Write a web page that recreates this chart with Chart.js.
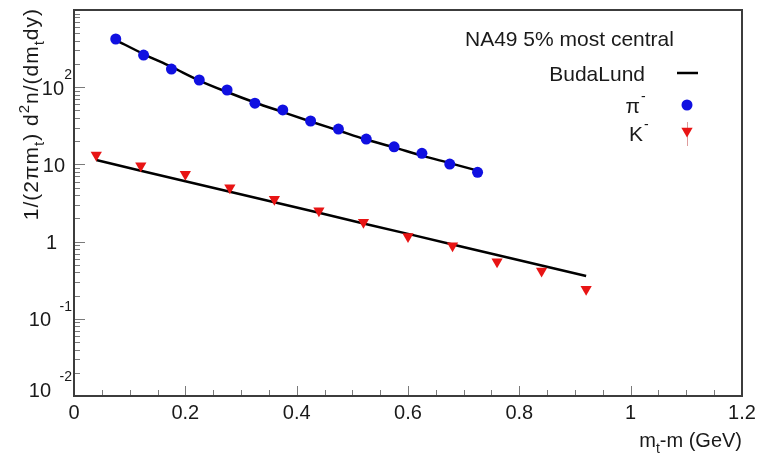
<!DOCTYPE html>
<html>
<head>
<meta charset="utf-8">
<script src="https://cdn.jsdelivr.net/npm/chart.js@4.4.1/dist/chart.umd.min.js"></script>
<style>
  html, body { margin: 0; padding: 0; background: #fff; }
  #wrap { width: 762px; height: 462px; }
</style>
</head>
<body>
<div id="wrap"><canvas id="spectra" width="762" height="462"></canvas></div>
<script>
// pi- spectrum, m_t - m in GeV
const pionMt = [0.075, 0.125, 0.175, 0.225, 0.275, 0.325, 0.375, 0.425, 0.475, 0.525, 0.575, 0.625, 0.675, 0.725];
const pionYield = [421, 261, 172, 124, 92, 62, 50.7, 36.5, 28.7, 21.3, 16.9, 13.9, 10.1, 7.9];
const pionFit = [408, 269, 183, 122, 86.7, 63.4, 47.7, 36, 27.5, 21, 16.6, 13, 10.4, 8.3];

// K- spectrum
const kaonMt = [0.04, 0.12, 0.20, 0.28, 0.36, 0.44, 0.52, 0.60, 0.68, 0.76, 0.84, 0.92];
const kaonYield = [13.2, 9.6, 7.44, 4.99, 3.53, 2.51, 1.78, 1.16, 0.885, 0.549, 0.416, 0.241];
const kaonFit = [11.4, 8.28, 6.06, 4.42, 3.23, 2.36, 1.72, 1.26, 0.918, 0.67, 0.49, 0.358];

// axis labels
const xTickLabels = ['0', '0.2', '0.4', '0.6', '0.8', '1', '1.2'];
const yDecades = [0.01, 0.1, 1, 10, 100];
const yDecadeBase = ['10', '10', '1', '10', '10'];
const yDecadeExp = ['-2', '-1', '', '', '2'];

const FONT = '"Liberation Sans", Arial, Helvetica, sans-serif';
const PION_BLUE = 'rgb(16, 16, 225)';
const KAON_RED = 'rgb(232, 20, 20)';

const toPoints = (xs, ys) => xs.map((x, i) => ({ x, y: ys[i] }));

// text pieces with sub/superscripts, drawn along a baseline
const richWidth = (ctx, parts, size) => parts.reduce((w, p) => {
    ctx.font = `${p.sub || p.sup ? Math.round(size * 0.7) : size}px ${FONT}`;
    return w + ctx.measureText(p.t).width;
}, 0);

const drawRich = (ctx, parts, x, y, size) => {
    let cx = x;
    parts.forEach((p) => {
        const small = p.sub || p.sup;
        ctx.font = `${small ? Math.round(size * 0.7) : size}px ${FONT}`;
        const dy = p.sub ? size * 0.28 : p.sup ? -size * 0.45 : 0;
        ctx.fillText(p.t, cx, y + dy);
        cx += ctx.measureText(p.t).width;
    });
};

const frameAndLabels = {
    id: 'frameAndLabels',
    afterDraw(chart) {
        const { ctx, chartArea: a, scales: { x, y } } = chart;
        ctx.save();

        // inward ticks on the log axis
        ctx.strokeStyle = '#7a7a7a';
        ctx.lineWidth = 1;
        ctx.beginPath();
        yDecades.forEach((dec) => {
            for (let m = 1; m <= 9; m++) {
                const py = Math.round(y.getPixelForValue(m * dec)) + 0.5;
                const len = m === 1 ? 11 : 6;
                ctx.moveTo(a.left, py);
                ctx.lineTo(a.left + len, py);
            }
        });
        // inward ticks on the x axis
        x.ticks.forEach((t) => {
            const px = Math.round(x.getPixelForValue(t.value)) + 0.5;
            const major = Math.abs(t.value * 5 - Math.round(t.value * 5)) < 1e-6;
            ctx.moveTo(px, a.bottom);
            ctx.lineTo(px, a.bottom - (major ? 10 : 6));
        });
        ctx.stroke();

        // frame
        ctx.strokeStyle = '#3c3c3c';
        ctx.lineWidth = 2;
        ctx.strokeRect(a.left, a.top, a.width, a.height);

        // y tick labels: 10 with exponent
        ctx.fillStyle = '#1a1a1a';
        ctx.textBaseline = 'middle';
        yDecades.forEach((dec, i) => {
            const py = y.getPixelForValue(dec);
            const exp = yDecadeExp[i];
            const shift = i === 0 ? -5 : 2;
            ctx.textAlign = 'right';
            if (exp) {
                ctx.font = `14px ${FONT}`;
                ctx.fillText(exp, 72, py + shift - 14);
                ctx.font = `20px ${FONT}`;
                ctx.fillText(yDecadeBase[i], exp.startsWith('-') ? 51 : 64, py + shift);
            } else {
                ctx.font = `20px ${FONT}`;
                ctx.fillText(yDecadeBase[i], yDecadeBase[i].length > 1 ? 65 : 57, py + shift);
            }
        });

        // y title, rotated, ending at the top of the axis
        ctx.textAlign = 'left';
        ctx.textBaseline = 'alphabetic';
        const yTitle = [
            { t: '1/(2πm' }, { t: 't', sub: true }, { t: ') d' }, { t: '2', sup: true },
            { t: 'n/(dm' }, { t: 't', sub: true }, { t: 'dy)' },
        ];
        ctx.save();
        ctx.letterSpacing = '1px';
        ctx.translate(38, a.top - 2);
        ctx.rotate(-Math.PI / 2);
        drawRich(ctx, yTitle, -richWidth(ctx, yTitle, 21), 0, 21);
        ctx.restore();

        // x title, right aligned to the axis end
        const xTitle = [{ t: 'm' }, { t: 't', sub: true }, { t: '-m (GeV)' }];
        drawRich(ctx, xTitle, a.right - richWidth(ctx, xTitle, 20), 447, 20);

        // legend
        ctx.font = `21px ${FONT}`;
        ctx.fillText('NA49 5% most central', 465, 46);
        ctx.textAlign = 'right';
        ctx.fillText('BudaLund', 645, 81);
        ctx.fillText('π', 640, 113);
        ctx.fillText('K', 643, 141);
        ctx.font = `14px ${FONT}`;
        ctx.textAlign = 'left';
        ctx.fillText('-', 641, 101);
        ctx.fillText('-', 644, 129);

        ctx.strokeStyle = '#000';
        ctx.lineWidth = 2.5;
        ctx.beginPath();
        ctx.moveTo(677, 73);
        ctx.lineTo(698, 73);
        ctx.stroke();

        ctx.fillStyle = PION_BLUE;
        Chart.helpers.drawPoint(ctx, { pointStyle: 'circle', radius: 5.5, rotation: 0, borderWidth: 0 }, 687, 105);
        ctx.strokeStyle = 'rgba(200, 90, 90, 0.6)';
        ctx.lineWidth = 1;
        ctx.beginPath();
        ctx.moveTo(687.5, 122);
        ctx.lineTo(687.5, 146);
        ctx.stroke();
        ctx.fillStyle = KAON_RED;
        Chart.helpers.drawPoint(ctx, { pointStyle: 'triangle', radius: 6.5, rotation: 180, borderWidth: 0 }, 687, 131);

        ctx.restore();
    },
};

new Chart(document.getElementById('spectra'), {
    type: 'scatter',
    data: {
        datasets: [
            {
                label: 'π-',
                data: toPoints(pionMt, pionYield),
                showLine: false,
                pointStyle: 'circle',
                pointRadius: 5.5,
                pointBackgroundColor: PION_BLUE,
                pointBorderWidth: 0,
            },
            {
                label: 'K-',
                data: toPoints(kaonMt, kaonYield),
                showLine: false,
                pointStyle: 'triangle',
                pointRotation: 180,
                pointRadius: 6.5,
                pointBackgroundColor: KAON_RED,
                pointBorderWidth: 0,
            },
            {
                label: 'BudaLund π-',
                data: toPoints(pionMt, pionFit),
                showLine: true,
                pointRadius: 0,
                borderColor: '#000',
                borderWidth: 2.5,
                cubicInterpolationMode: 'monotone',
            },
            {
                label: 'BudaLund K-',
                data: toPoints(kaonMt, kaonFit),
                showLine: true,
                pointRadius: 0,
                borderColor: '#000',
                borderWidth: 2.5,
            },
        ],
    },
    options: {
        responsive: false,
        animation: false,
        devicePixelRatio: 1,
        layout: { padding: { left: 0, top: 10, right: 20, bottom: 0 } },
        plugins: {
            legend: { display: false },
            tooltip: { enabled: false },
        },
        scales: {
            x: {
                type: 'linear',
                min: 0,
                max: 1.2,
                grid: { display: false, drawTicks: false },
                border: { display: false },
                ticks: {
                    stepSize: 0.05,
                    autoSkip: false,
                    maxRotation: 0,
                    padding: 5,
                    color: '#1a1a1a',
                    font: { family: FONT, size: 20 },
                    callback: (value) => {
                        const k = value * 5;
                        return Math.abs(k - Math.round(k)) < 1e-6 ? xTickLabels[Math.round(k)] : '';
                    },
                },
                afterFit: (scale) => { scale.height = 66; },
            },
            y: {
                type: 'logarithmic',
                min: 0.01,
                max: 1000,
                grid: { display: false, drawTicks: false },
                border: { display: false },
                ticks: { display: false },
                afterFit: (scale) => { scale.width = 74; },
            },
        },
    },
    plugins: [frameAndLabels],
});
</script>
</body>
</html>
